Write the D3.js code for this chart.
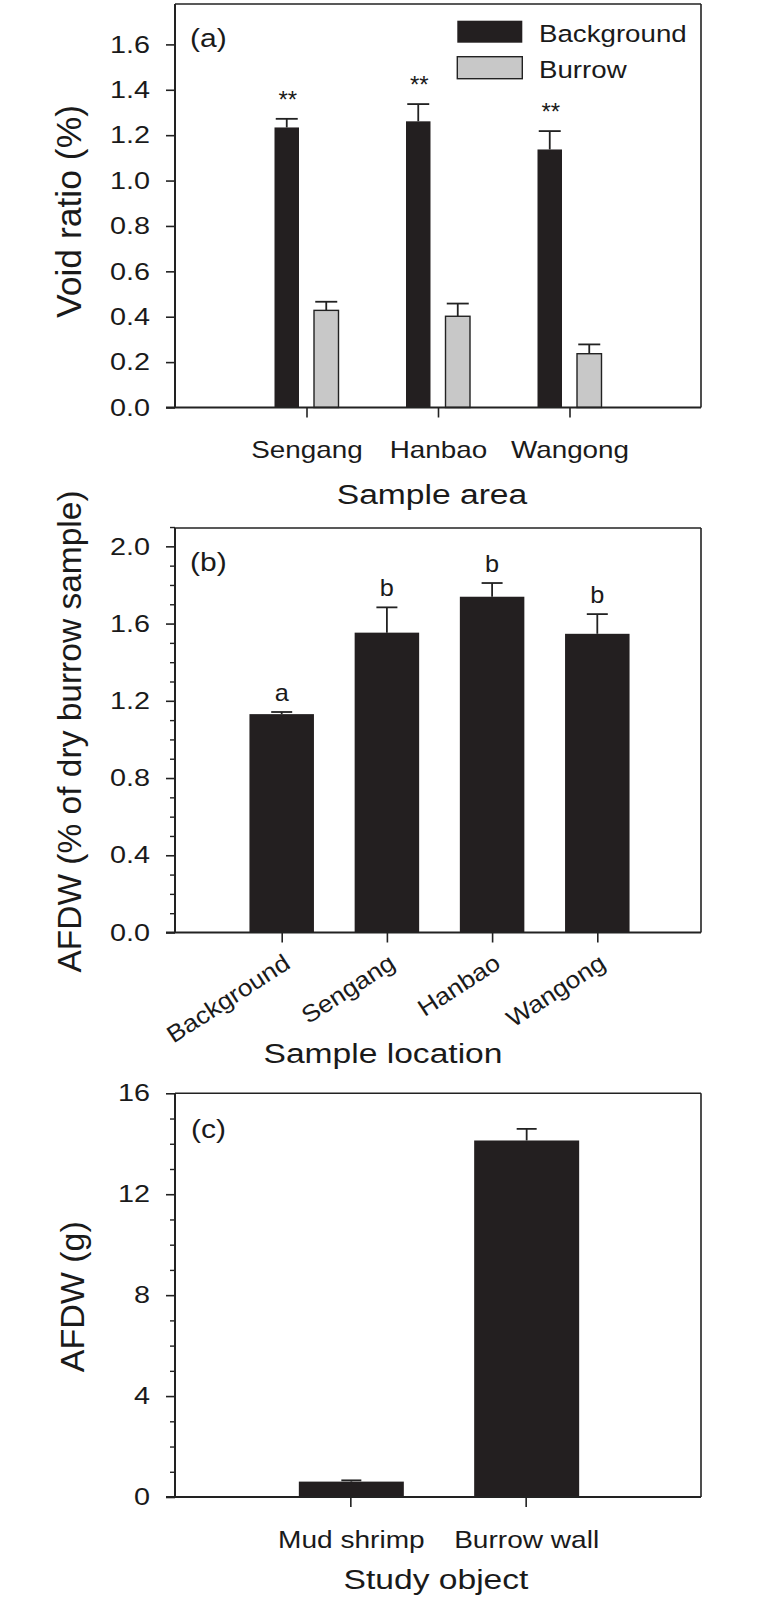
<!DOCTYPE html>
<html>
<head>
<meta charset="utf-8">
<script src="https://cdn.jsdelivr.net/npm/d3@7"></script>
<style>
  html, body { margin: 0; padding: 0; background: #fff; }
  svg text { font-family: "Liberation Sans", Arial, Helvetica, sans-serif; fill: #1a1a1a; }
</style>
</head>
<body>
<svg id="chart" width="757" height="1600"></svg>
<script>
// ---------- DATA ----------
// Panel (a)
const areaCategories = ["Sengang", "Hanbao", "Wangong"];
const voidSeries = ["Background", "Burrow"];
const voidBackground = [1.234, 1.261, 1.137];
const voidBackgroundErr = [0.038, 0.076, 0.081];
const voidBurrow = [0.428, 0.402, 0.237];
const voidBurrowErr = [0.038, 0.056, 0.041];
const voidSignif = ["**", "**", "**"];
const voidTicks = [0.0, 0.2, 0.4, 0.6, 0.8, 1.0, 1.2, 1.4, 1.6];

// Panel (b)
const locationCategories = ["Background", "Sengang", "Hanbao", "Wangong"];
const afdwPercent = [1.131, 1.553, 1.739, 1.547];
const afdwPercentErr = [0.011, 0.131, 0.071, 0.102];
const afdwLetters = ["a", "b", "b", "b"];
const afdwPercentTicks = [0.0, 0.4, 0.8, 1.2, 1.6, 2.0];
const afdwPercentMinor = [0.1, 0.2, 0.3, 0.5, 0.6, 0.7, 0.9, 1.0, 1.1, 1.3, 1.4, 1.5, 1.7, 1.8, 1.9, 2.1];

// Panel (c)
const objectCategories = ["Mud shrimp", "Burrow wall"];
const afdwGrams = [0.61, 14.13];
const afdwGramsErr = [0.05, 0.46];
const afdwGramsTicks = [0, 4, 8, 12, 16];
const afdwGramsMinor = [1, 2, 3, 5, 6, 7, 9, 10, 11, 13, 14, 15];

// ---------- LAYOUT ----------
const svg = d3.select("#chart");
const LEFT = 175, RIGHT = 701;
const BAR_FILL = "#231f20", GREY_FILL = "#c8c8c8", AX = "#222";
const FONT_TICK = 24;
const SX = 1.2; // horizontal widening of the original lettering

function hText(g, x, y, text, size, anchor, sx) {
  return g.append("text")
    .attr("transform", `translate(${x},${y}) scale(${sx || SX},1)`)
    .attr("text-anchor", anchor || "start")
    .attr("font-size", size).text(text);
}

function frame(g, top, bottom) {
  g.append("line").attr("x1", LEFT).attr("x2", RIGHT).attr("y1", top).attr("y2", top)
    .attr("stroke", AX).attr("stroke-width", 1.6);
  g.append("line").attr("x1", RIGHT).attr("x2", RIGHT).attr("y1", top).attr("y2", bottom)
    .attr("stroke", AX).attr("stroke-width", 1.6);
  g.append("line").attr("x1", LEFT).attr("x2", LEFT).attr("y1", top).attr("y2", bottom)
    .attr("stroke", AX).attr("stroke-width", 2);
  g.append("line").attr("x1", LEFT - 9).attr("x2", RIGHT).attr("y1", bottom).attr("y2", bottom)
    .attr("stroke", AX).attr("stroke-width", 2);
}

function yAxis(g, y, ticks, minor, fmt) {
  const ax = g.append("g").attr("transform", `translate(${LEFT},0)`)
    .call(d3.axisLeft(y).tickValues(ticks).tickSize(9).tickSizeOuter(0).tickPadding(16).tickFormat(fmt));
  ax.select(".domain").remove();
  ax.selectAll("line").attr("stroke", AX).attr("stroke-width", 1.6);
  ax.selectAll("text").attr("font-size", FONT_TICK)
    .attr("font-family", "Liberation Sans, Arial, sans-serif").attr("fill", "#1a1a1a")
    .attr("x", -25 / SX).attr("transform", `scale(${SX},1)`);
  if (minor) {
    const mx = g.append("g").attr("transform", `translate(${LEFT},0)`)
      .call(d3.axisLeft(y).tickValues(minor).tickSize(5).tickFormat(""));
    mx.select(".domain").remove();
    mx.selectAll("line").attr("stroke", AX).attr("stroke-width", 1.4);
  }
}

function xTicks(g, x, bottom) {
  const ax = g.append("g").attr("transform", `translate(0,${bottom})`)
    .call(d3.axisBottom(x).tickSize(10).tickSizeOuter(0).tickFormat(""));
  ax.select(".domain").remove();
  ax.selectAll("line").attr("stroke", AX).attr("stroke-width", 1.6);
}

function errBar(g, cx, yTop, yErr, cap) {
  g.append("line").attr("x1", cx).attr("x2", cx).attr("y1", yTop).attr("y2", yErr)
    .attr("stroke", AX).attr("stroke-width", 1.8);
  g.append("line").attr("x1", cx - cap / 2).attr("x2", cx + cap / 2).attr("y1", yErr).attr("y2", yErr)
    .attr("stroke", AX).attr("stroke-width", 1.8);
}

function yLabel(g, text, cx, cy, size) {
  g.append("text").attr("transform", `translate(${cx},${cy}) rotate(-90)`)
    .attr("text-anchor", "middle").attr("font-size", size).text(text);
}

// ---------- PANEL (a) ----------
{
  const g = svg.append("g");
  const TOP = 4, BOTTOM = 407.5;
  const y = d3.scaleLinear().domain([0, 1.778]).range([BOTTOM, TOP]);
  const x = d3.scalePoint().domain(areaCategories).range([LEFT, RIGHT]).padding(1);
  const xs = d3.scaleBand().domain(voidSeries).range([-32, 32]).paddingInner(0.38);
  const bw = xs.bandwidth();

  const values = [voidBackground, voidBurrow];
  const errs = [voidBackgroundErr, voidBurrowErr];
  const fills = [BAR_FILL, GREY_FILL];

  voidSeries.forEach((s, si) => {
    areaCategories.forEach((c, i) => {
      const x0 = x(c) + xs(s);
      const v = values[si][i];
      const cx = x0 + bw / 2;
      errBar(g, cx, y(v), y(v + errs[si][i]), 22);
      g.append("rect").attr("x", x0).attr("y", y(v)).attr("width", bw).attr("height", y(0) - y(v))
        .attr("fill", fills[si]).attr("stroke", si === 1 ? "#222" : "none").attr("stroke-width", 1.4);
    });
  });

  areaCategories.forEach((c, i) => {
    const cx = x(c) + xs("Background") + bw / 2;
    g.append("text").attr("x", cx + 1).attr("y", y(voidBackground[i] + voidBackgroundErr[i]) - 11)
      .attr("text-anchor", "middle").attr("font-size", 24).text(voidSignif[i]);
  });

  frame(g, TOP, BOTTOM);
  yAxis(g, y, voidTicks, null, d3.format(".1f"));
  xTicks(g, x, BOTTOM);

  areaCategories.forEach(c => hText(g, x(c) + 0.5, 457.5, c, 24, "middle", 1.16));
  hText(g, 432, 503.5, "Sample area", 28, "middle");
  yLabel(g, "Void ratio (%)", 81, 211.5, 35.5);
  hText(g, 190, 46.5, "(a)", 25, "start");

  // legend
  const legendY = [20.7, 56.7];
  voidSeries.forEach((s, si) => {
    g.append("rect").attr("x", 457.3).attr("y", legendY[si]).attr("width", 65).attr("height", 22)
      .attr("fill", fills[si]).attr("stroke", si === 1 ? "#222" : "none").attr("stroke-width", 1.4);
    hText(g, 539, legendY[si] + 21, s, 24.5, "start", 1.13);
  });
}

// ---------- PANEL (b) ----------
{
  const g = svg.append("g");
  const TOP = 528, BOTTOM = 932.5;
  const y = d3.scaleLinear().domain([0, 2.095]).range([BOTTOM, TOP]);
  const x = d3.scalePoint().domain(locationCategories).range([LEFT + 1.5, RIGHT + 1.5]).padding(1);
  const bw = 64.5;

  locationCategories.forEach((c, i) => {
    const v = afdwPercent[i];
    errBar(g, x(c), y(v), y(v + afdwPercentErr[i]), 21);
    g.append("rect").attr("x", x(c) - bw / 2).attr("y", y(v)).attr("width", bw).attr("height", y(0) - y(v))
      .attr("fill", BAR_FILL);
    hText(g, x(c), y(v + afdwPercentErr[i]) - 11, afdwLetters[i], 23, "middle", 1.1);
  });

  frame(g, TOP, BOTTOM);
  yAxis(g, y, afdwPercentTicks, afdwPercentMinor, d3.format(".1f"));
  xTicks(g, x, BOTTOM);

  locationCategories.forEach(c => {
    g.append("text").attr("transform", `translate(${x(c) + 10},967) rotate(-33) scale(1.1,1)`)
      .attr("text-anchor", "end").attr("font-size", 24).text(c);
  });
  hText(g, 383, 1062.5, "Sample location", 28, "middle");
  yLabel(g, "AFDW (% of dry burrow sample)", 81, 731.5, 33.5);
  hText(g, 190, 571, "(b)", 25, "start");
}

// ---------- PANEL (c) ----------
{
  const g = svg.append("g");
  const TOP = 1093.3, BOTTOM = 1497;
  const y = d3.scaleLinear().domain([0, 16]).range([BOTTOM, TOP]);
  const x = d3.scalePoint().domain(objectCategories).range([LEFT, RIGHT]).padding(1);
  const bw = 105;

  objectCategories.forEach((c, i) => {
    const v = afdwGrams[i];
    errBar(g, x(c) + 1, y(v), y(v + afdwGramsErr[i]), 20);
    g.append("rect").attr("x", x(c) - bw / 2 + 1).attr("y", y(v)).attr("width", bw).attr("height", y(0) - y(v))
      .attr("fill", BAR_FILL);
  });

  frame(g, TOP, BOTTOM);
  yAxis(g, y, afdwGramsTicks, afdwGramsMinor, d3.format("d"));
  xTicks(g, x, BOTTOM);

  objectCategories.forEach(c => hText(g, x(c) + 1, 1547.5, c, 24, "middle", 1.17));
  hText(g, 436, 1588.5, "Study object", 28, "middle");
  yLabel(g, "AFDW (g)", 84, 1296.7, 34);
  hText(g, 191, 1138, "(c)", 25, "start");
}
</script>
</body>
</html>
